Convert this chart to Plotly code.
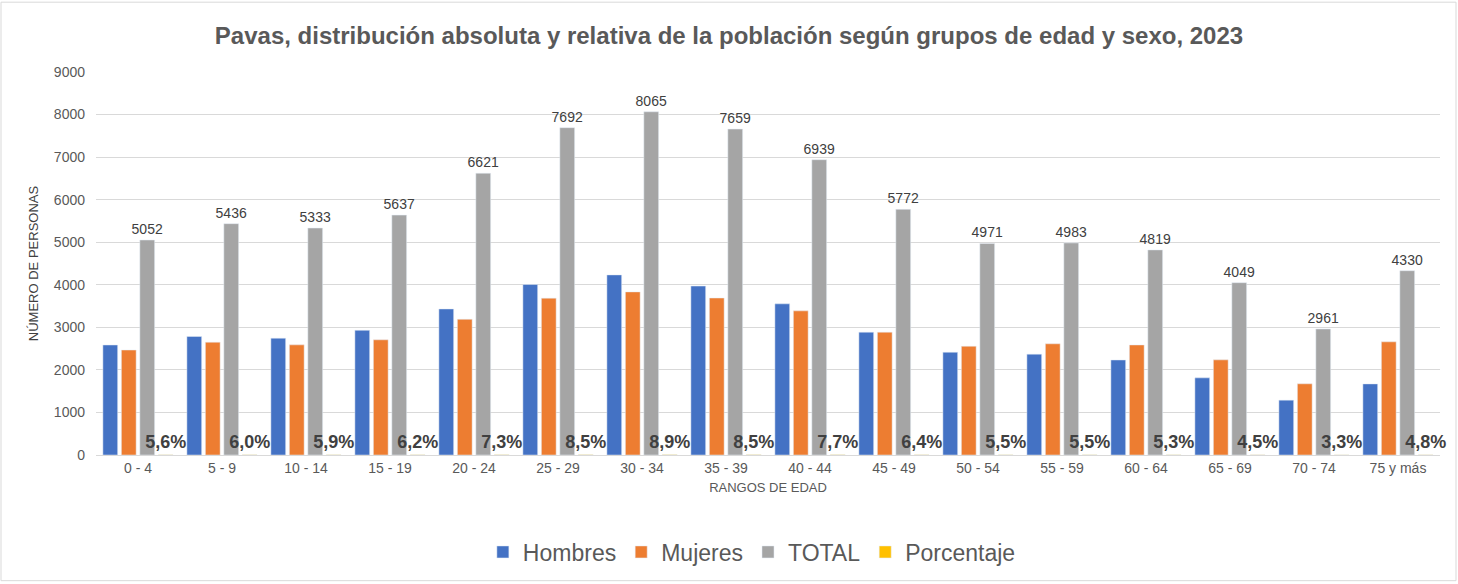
import plotly.graph_objects as go

categorias = ["0 - 4", "5 - 9", "10 - 14", "15 - 19", "20 - 24", "25 - 29", "30 - 34",
              "35 - 39", "40 - 44", "45 - 49", "50 - 54", "55 - 59", "60 - 64",
              "65 - 69", "70 - 74", "75 y más"]
hombres = [2585, 2785, 2745, 2930, 3432, 4006, 4232, 3970, 3552, 2886, 2415, 2370, 2233, 1813, 1288, 1671]
mujeres = [2467, 2651, 2588, 2707, 3189, 3686, 3833, 3689, 3387, 2886, 2556, 2613, 2586, 2236, 1673, 2659]
total = [5052, 5436, 5333, 5637, 6621, 7692, 8065, 7659, 6939, 5772, 4971, 4983, 4819, 4049, 2961, 4330]
porcentaje = [5.6, 6.0, 5.9, 6.2, 7.3, 8.5, 8.9, 8.5, 7.7, 6.4, 5.5, 5.5, 5.3, 4.5, 3.3, 4.8]
porcentaje_txt = [f"{p:.1f}%".replace(".", ",") for p in porcentaje]

FONT = "Liberation Sans"
GREY_TXT = "#595959"

fig = go.Figure()
fig.add_trace(go.Bar(name="Hombres", x=categorias, y=hombres, marker_color="#4472C4",
                     hoverinfo="y"))
fig.add_trace(go.Bar(name="Mujeres", x=categorias, y=mujeres, marker_color="#ED7D31",
                     hoverinfo="y"))
fig.add_trace(go.Bar(name="TOTAL", x=categorias, y=total, marker_color="#A5A5A5",
                     text=[str(t) for t in total], textposition="outside",
                     constraintext="none", cliponaxis=False,
                     textfont=dict(family=FONT, size=14, color="#404040")))
fig.add_trace(go.Bar(name="Porcentaje", x=categorias, y=porcentaje, marker_color="#FFC000",
                     text=porcentaje_txt, textposition="outside",
                     constraintext="none", cliponaxis=False,
                     textfont=dict(family=FONT, size=18, color="#404040"),
                     texttemplate="<b>%{text}</b>"))

fig.update_layout(
    width=1458, height=584,
    paper_bgcolor="white", plot_bgcolor="white",
    barmode="group", bargap=0.12, bargroupgap=0.2,
    margin=dict(l=96, r=18, t=72, b=128),
    font=dict(family=FONT, color=GREY_TXT),
    title=dict(text="<b>Pavas, distribución absoluta y relativa de la población según grupos de edad y sexo, 2023</b>",
               x=0.5, xanchor="center", y=1 - 36 / 584, yanchor="middle",
               font=dict(family=FONT, size=24, color=GREY_TXT)),
    legend=dict(orientation="h", x=0.488, xanchor="center", y=-0.25, yanchor="middle",
                font=dict(family=FONT, size=23, color=GREY_TXT), itemwidth=30,
                traceorder="normal"),
    showlegend=True,
)
fig.update_xaxes(showgrid=False, showline=True, linecolor="#D9D9D9", linewidth=1,
                 ticks="", tickfont=dict(size=14, color=GREY_TXT),
                 title=dict(text="RANGOS DE EDAD", font=dict(size=13, color=GREY_TXT), standoff=8))
fig.update_yaxes(range=[0, 9000], dtick=1000, showgrid=True, gridcolor="#D9D9D9", gridwidth=1,
                 zeroline=False, showline=False, ticks="", ticklabelstandoff=10,
                 tickfont=dict(size=14, color=GREY_TXT),
                 title=dict(text="NÚMERO DE PERSONAS", font=dict(size=13, color="#404040"), standoff=12))
fig.add_shape(type="rect", xref="paper", yref="paper",
              x0=-95 / 1344, x1=1 + 16 / 1344, y0=-126 / 384, y1=1 + 70 / 384,
              line=dict(color="#D9D9D9", width=1), fillcolor="rgba(0,0,0,0)", layer="below")

fig.write_html("out.html", config={"displayModeBar": False},
               post_script="document.body.style.margin='0';")
